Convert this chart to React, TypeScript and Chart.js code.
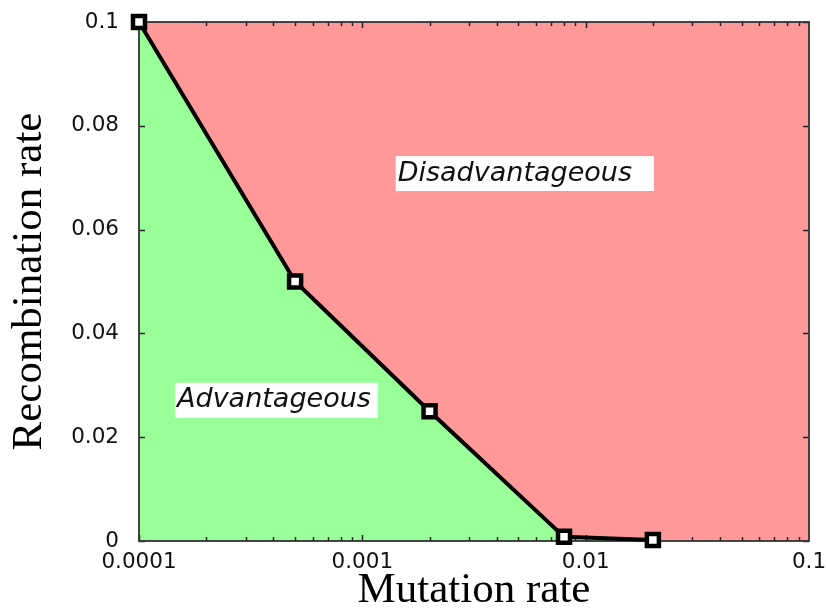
import React, { useEffect, useRef } from "react";
import { Chart, registerables } from "chart.js";

Chart.register(...registerables);

// Boundary between the regions (mutation rate, recombination rate)
const MUTATION = [0.0001, 0.0005, 0.002, 0.008, 0.02];
const RECOMBINATION = [0.1, 0.05, 0.025, 0.0008, 0.0002];

const X_MIN = 0.0001;
const X_MAX = 0.1;
const Y_MIN = 0;
const Y_MAX = 0.1;

const X_TICKS = [0.0001, 0.001, 0.01, 0.1];
const X_TICK_LABELS = ["0.0001", "0.001", "0.01", "0.1"];
const Y_TICK_LABELS = ["0", "0.02", "0.04", "0.06", "0.08", "0.1"];

const REGION_LABELS = ["Disadvantageous", "Advantageous"];
const REGION_LABEL_X = [0.00144, 0.000148];
const REGION_LABEL_Y = [0.0708, 0.0271];
const REGION_LABEL_PAD_RIGHT = [22, 7];

const GREEN = "#99ff99";
const RED = "#ff9999";

const framePlugin = {
  id: "frame",
  beforeDatasetDraw(chart: any, args: any) {
    if (args.index !== 0) return;
    const { ctx, chartArea } = chart;
    const xs = chart.scales.x;
    const ys = chart.scales.y;
    const { left, right, top, bottom } = chartArea;
    ctx.save();
    // region labels
    ctx.font = "italic 27px 'DejaVu Sans'";
    ctx.textBaseline = "middle";
    ctx.textAlign = "left";
    REGION_LABELS.forEach((t, i) => {
      const px = xs.getPixelForValue(REGION_LABEL_X[i]);
      const py = ys.getPixelForValue(REGION_LABEL_Y[i]);
      const w = ctx.measureText(t).width;
      ctx.fillStyle = "#ffffff";
      ctx.fillRect(px - 2, py - 17.5, w + 2 + REGION_LABEL_PAD_RIGHT[i], 35);
      ctx.fillStyle = "#111111";
      ctx.fillText(t, px, py);
    });
    // ticks
    ctx.strokeStyle = "#222222";
    ctx.lineWidth = 1.5;
    ctx.beginPath();
    for (let e = -4; e < -1; e++) {
      for (let m = 1; m <= 9; m++) {
        const v = m * Math.pow(10, e);
        const px = Math.round(xs.getPixelForValue(v)) + 0.5;
        const len = m === 1 ? 6 : 4;
        ctx.moveTo(px, bottom);
        ctx.lineTo(px, bottom - len);
        ctx.moveTo(px, top);
        ctx.lineTo(px, top + len);
      }
    }
    ys.ticks.forEach((t: any) => {
      const py = Math.round(ys.getPixelForValue(t.value)) + 0.5;
      ctx.moveTo(left, py);
      ctx.lineTo(left + 6, py);
      ctx.moveTo(right, py);
      ctx.lineTo(right - 6, py);
    });
    ctx.stroke();
    // frame
    ctx.strokeStyle = "#333333";
    ctx.lineWidth = 1.8;
    ctx.strokeRect(left, top, right - left, bottom - top);
    ctx.restore();
  },
};

export default function App() {
  const ref = useRef<HTMLCanvasElement | null>(null);

  useEffect(() => {
    if (!ref.current) return;
    const boundary = MUTATION.map((x, i) => ({ x, y: RECOMBINATION[i] }));
    const redEdge = [...boundary, { x: X_MAX, y: Y_MIN }];
    const chart = new Chart(ref.current, {
      type: "line",
      data: {
        datasets: [
          {
            data: boundary,
            borderColor: "#000000",
            borderWidth: 4,
            backgroundColor: GREEN,
            fill: "origin",
            clip: false,
            pointStyle: "rect",
            pointRadius: 8.5,
            pointBorderWidth: 4.5,
            pointBorderColor: "#000000",
            pointBackgroundColor: "#ffffff",
            tension: 0,
          },
          {
            data: redEdge,
            borderWidth: 0,
            borderColor: "rgba(0,0,0,0)",
            backgroundColor: RED,
            fill: "end",
            pointRadius: 0,
            tension: 0,
          },
        ],
      },
      options: {
        responsive: false,
        animation: false,
        layout: { padding: { left: 0, top: 22, right: 17, bottom: 0 } },
        plugins: {
          legend: { display: false },
          tooltip: { enabled: false },
        },
        scales: {
          x: {
            type: "logarithmic",
            min: X_MIN,
            max: X_MAX,
            grid: { display: false, drawTicks: false },
            border: { display: false },
            afterBuildTicks: (scale: any) => {
              scale.ticks = X_TICKS.map((v) => ({ value: v }));
            },
            afterFit: (scale: any) => {
              scale.height = 71;
              scale.paddingLeft = 0;
              scale.paddingRight = 0;
            },
            ticks: {
              autoSkip: false,
              maxRotation: 0,
              padding: 9,
              color: "#111111",
              font: { family: "'DejaVu Sans'", size: 21.5 },
              callback: (_v: any, i: number) => X_TICK_LABELS[i],
            },
            title: {
              display: true,
              text: "Mutation rate",
              color: "#000000",
              padding: 0,
              font: { family: "'Liberation Serif'", size: 43, lineHeight: 1 },
            },
          },
          y: {
            min: Y_MIN,
            max: Y_MAX,
            grid: { display: false, drawTicks: false },
            border: { display: false },
            afterFit: (scale: any) => {
              scale.width = 139;
              scale.paddingTop = 0;
              scale.paddingBottom = 0;
            },
            ticks: {
              stepSize: 0.02,
              padding: 20,
              color: "#111111",
              font: { family: "'DejaVu Sans'", size: 21.5 },
              callback: (_v: any, i: number) => Y_TICK_LABELS[i],
            },
            title: {
              display: true,
              text: "Recombination rate",
              color: "#000000",
              padding: { top: 8, bottom: 0 },
              font: { family: "'Liberation Serif'", size: 43, lineHeight: 1 },
            },
          },
        },
      },
      plugins: [framePlugin],
    });
    return () => chart.destroy();
  }, []);

  return (
    <div style={{ position: "absolute", left: 0, top: 0, width: 826, height: 612, background: "#ffffff" }}>
      <canvas ref={ref} width={826} height={612} />
    </div>
  );
}
